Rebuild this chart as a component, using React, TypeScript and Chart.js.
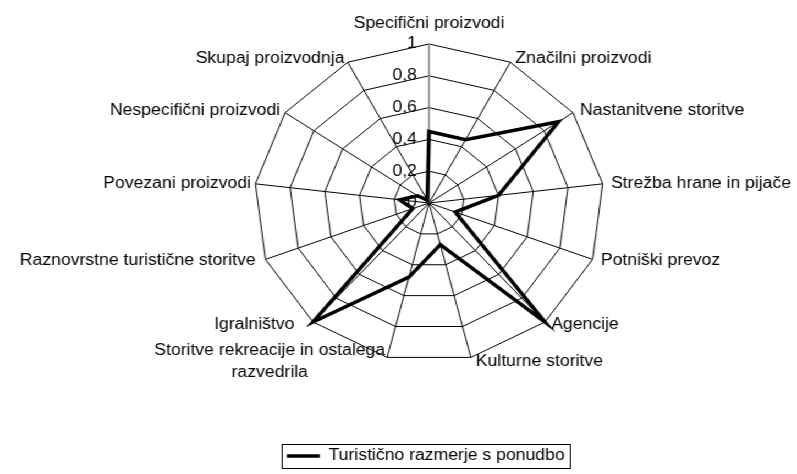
import React, { useEffect, useRef } from 'react';
import { Chart, registerables } from 'chart.js';

Chart.register(...registerables);

// ---- data ----
const categories: (string | string[])[] = [
  'Specifični proizvodi',
  'Značilni proizvodi',
  'Nastanitvene storitve',
  'Strežba hrane in pijače',
  'Potniški prevoz',
  'Agencije',
  'Kulturne storitve',
  ['Storitve rekreacije in ostalega', 'razvedrila'],
  'Igralništvo',
  'Raznovrstne turistične storitve',
  'Povezani proizvodi',
  'Nespecifični proizvodi',
  'Skupaj proizvodnja',
];
const seriesName = 'Turistično razmerje s ponudbo';
const seriesValues = [0.45, 0.45, 0.9, 0.4, 0.16, 1.0, 0.27, 0.48, 1.0, 0.1, 0.17, 0.08, 0.02];
const tickLabels = ['0', '0,2', '0,4', '0,6', '0,8', '1'];

// ---- layout / style ----
const FONT_FAMILY = "'Liberation Sans', Arial, Helvetica, sans-serif";
const FONT_SIZE = 16;
const LINE_HEIGHT = 1.375;
const STRETCH_X = 1.1;
const CANVAS_W = 724;
const CANVAS_H = 474;
const CENTER_X = 390;
const CENTER_Y = 203;
const RADIUS = 159;
const TOP_LABEL_LIFT = 20;
const LABEL_GAPS = [0, 4.7, 6.4, 7.6, 7.6, 5.7, 4.5, 1.8, 17, 9, 4, 4.5, 3];
const TICK_GAP = 11;

const geometryPlugin = {
  id: 'geometry',
  afterLayout(chart: any) {
    const s: any = chart.scales.r;
    if (!s) return;
    s.xCenter = CENTER_X;
    s.yCenter = CENTER_Y;
    s.drawingArea = RADIUS;
    const items = s._pointLabelItems;
    if (!items) return;
    const ctx = chart.ctx;
    ctx.save();
    ctx.font = `${FONT_SIZE}px ${FONT_FAMILY}`;
    const lh = FONT_SIZE * LINE_HEIGHT;
    items.forEach((item: any, i: number) => {
      const v = s.getPointPosition(i, RADIUS);
      const label = s._pointLabels[i];
      const lines: string[] = Array.isArray(label) ? label : [label];
      const angle = s.getIndexAngle(i);
      const gap = LABEL_GAPS[i] ?? 5;
      let midY = v.y - 4 * Math.cos(angle);
      let x = v.x;
      let align = 'center';
      if (i === 0) {
        midY = v.y - TOP_LABEL_LIFT;
      } else if (Math.sin(angle) > 0) {
        x = v.x + gap;
        align = 'left';
      } else {
        x = v.x - gap;
        align = 'right';
      }
      if (lines.length > 1) {
        const w = Math.max(...lines.map((l) => ctx.measureText(l).width));
        x = align === 'right' ? x - w / 2 : align === 'left' ? x + w / 2 : x;
        align = 'center';
      }
      item.x = x;
      item.textAlign = align;
      item.y = midY - (lines.length * lh) / 2;
      item.visible = true;
    });
    ctx.restore();
  },
};

const tickLabelPlugin = {
  id: 'tickLabelsLeft',
  beforeDatasetsDraw(chart: any) {
    const s: any = chart.scales.r;
    const ctx = chart.ctx;
    ctx.save();
    ctx.font = `${FONT_SIZE}px ${FONT_FAMILY}`;
    ctx.fillStyle = '#000';
    ctx.textAlign = 'right';
    ctx.textBaseline = 'middle';
    s.ticks.forEach((t: any, i: number) => {
      const d = s.getDistanceFromCenterForValue(t.value);
      ctx.fillText(tickLabels[i] ?? String(t.value), s.xCenter - TICK_GAP, s.yCenter - d);
    });
    ctx.restore();
  },
};

const legendBoxPlugin = {
  id: 'legendBox',
  afterDraw(chart: any) {
    const lg = chart.legend;
    if (!lg || !lg.legendHitBoxes || !lg.legendHitBoxes.length) return;
    const hb = lg.legendHitBoxes[0];
    const ctx = chart.ctx;
    ctx.save();
    ctx.strokeStyle = '#000';
    ctx.lineWidth = 1;
    const l = Math.round(hb.left - 5) + 0.5;
    const t = Math.round(hb.top - 4) + 0.5;
    const r = Math.round(hb.left + hb.width + 5) + 0.5;
    const b = Math.round(hb.top + hb.height + 4) + 0.5;
    ctx.strokeRect(l, t, r - l, b - t);
    ctx.restore();
  },
};

export default function App() {
  const ref = useRef<HTMLCanvasElement | null>(null);
  useEffect(() => {
    if (!ref.current) return;
    Chart.defaults.font.family = FONT_FAMILY;
    Chart.defaults.font.size = FONT_SIZE;
    Chart.defaults.color = '#000';
    const chart = new Chart(ref.current, {
      type: 'radar',
      data: {
        labels: categories,
        datasets: [
          {
            label: seriesName,
            data: seriesValues,
            borderColor: '#000',
            backgroundColor: 'rgba(0,0,0,0)',
            borderWidth: 3.5,
            borderJoinStyle: 'miter',
            pointRadius: 0,
            pointHoverRadius: 0,
            fill: false,
          },
        ],
      },
      options: {
        responsive: true,
        maintainAspectRatio: false,
        animation: false,
        layout: { padding: { left: 50 } },
        scales: {
          r: {
            min: 0,
            max: 1,
            ticks: { stepSize: 0.2, display: false },
            grid: { color: '#000', lineWidth: 1 },
            angleLines: {
              color: (c: any) => (c.index === 0 ? '#808080' : '#000'),
              lineWidth: (c: any) => (c.index === 0 ? 1.5 : 1),
            },
            pointLabels: {
              color: '#000',
              font: { size: FONT_SIZE, family: FONT_FAMILY, lineHeight: LINE_HEIGHT },
              padding: 5,
            },
          },
        },
        plugins: {
          legend: {
            position: 'bottom',
            labels: {
              usePointStyle: true,
              pointStyle: 'line',
              pointStyleWidth: 30,
              padding: 6,
              color: '#000',
              font: { size: FONT_SIZE, family: FONT_FAMILY },
            },
          },
          tooltip: { enabled: false },
        },
      } as any,
      plugins: [geometryPlugin, tickLabelPlugin, legendBoxPlugin],
    });
    return () => chart.destroy();
  }, []);
  return (
    <div
      style={{
        position: 'absolute',
        left: 0,
        top: 0,
        width: CANVAS_W,
        height: CANVAS_H,
        transform: `scaleX(${STRETCH_X})`,
        transformOrigin: '0 0',
        background: '#fff',
      }}
    >
      <canvas ref={ref} />
    </div>
  );
}
